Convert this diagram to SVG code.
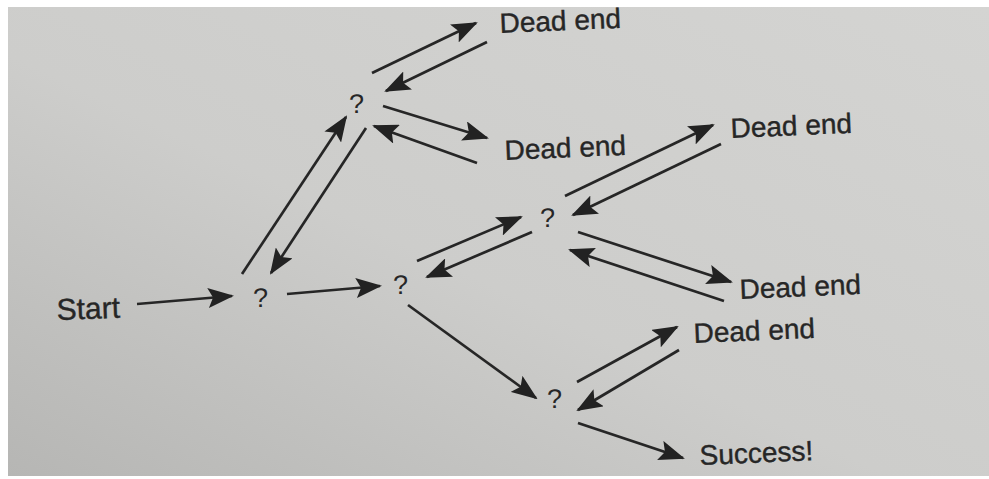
<svg xmlns="http://www.w3.org/2000/svg" width="989" height="479" viewBox="0 0 989 479">
<defs>
<linearGradient id="bg" x1="0" y1="1" x2="1" y2="0">
<stop offset="0" stop-color="#b6b6b4"/>
<stop offset="0.45" stop-color="#cdcdcb"/>
<stop offset="1" stop-color="#d4d4d2"/>
</linearGradient>
<marker id="ah" markerUnits="userSpaceOnUse" markerWidth="26" markerHeight="20" viewBox="0 0 26 20" refX="24" refY="10" orient="auto">
<path d="M0,0 L26,10 L0,20 L5,10 Z" fill="#222222"/>
</marker>
</defs>
<style>
.t{font-family:"Liberation Sans",Arial,sans-serif;fill:#262626;stroke:#262626;stroke-width:0.4;font-size:28px}
.q{font-family:"Liberation Sans",Arial,sans-serif;fill:#262626;font-size:27px;text-anchor:middle}
#edges line{stroke:#262626;stroke-width:2.7;marker-end:url(#ah)}
</style>
<rect width="989" height="479" fill="#ffffff"/>
<rect x="8" y="7" width="981" height="469" fill="url(#bg)"/>
<g id="edges">
<line x1="137" y1="304" x2="232" y2="296"/>
<line x1="287" y1="294" x2="380" y2="286"/>
<line x1="242" y1="274" x2="346" y2="117"/>
<line x1="366" y1="128" x2="271" y2="273"/>
<line x1="372" y1="73" x2="476" y2="23"/>
<line x1="487" y1="42" x2="386" y2="91"/>
<line x1="383" y1="106" x2="487" y2="138"/>
<line x1="477" y1="163" x2="374" y2="126"/>
<line x1="417" y1="261" x2="521" y2="217"/>
<line x1="532" y1="232" x2="427" y2="277"/>
<line x1="565" y1="196" x2="713" y2="125"/>
<line x1="721" y1="144" x2="573" y2="215"/>
<line x1="578" y1="232" x2="731" y2="282"/>
<line x1="724" y1="301" x2="570" y2="250"/>
<line x1="408" y1="305" x2="536" y2="398"/>
<line x1="577" y1="382" x2="677" y2="327"/>
<line x1="679" y1="350" x2="578" y2="410"/>
<line x1="578" y1="423" x2="683" y2="458"/>
</g>
<g id="start"><text class="t" x="57" y="320" transform="rotate(-2 57 320)" style="font-size:30px">Start</text></g>
<g id="q1"><text class="q" x="261" y="307" transform="rotate(-2 261 307)">?</text></g>
<g id="q2"><text class="q" x="401" y="294" transform="rotate(-2 401 294)">?</text></g>
<g id="q3"><text class="q" x="357" y="113" transform="rotate(-2 357 113)">?</text></g>
<g id="q4"><text class="q" x="548" y="227" transform="rotate(-2 548 227)">?</text></g>
<g id="q5"><text class="q" x="555" y="408" transform="rotate(-2 555 408)">?</text></g>
<g id="de1"><text class="t" x="500" y="33" transform="rotate(-2.5 500 33)">Dead end</text></g>
<g id="de2"><text class="t" x="505" y="160" transform="rotate(-2.5 505 160)">Dead end</text></g>
<g id="de3"><text class="t" x="731" y="138" transform="rotate(-2.5 731 138)">Dead end</text></g>
<g id="de4"><text class="t" x="740" y="299" transform="rotate(-2.5 740 299)">Dead end</text></g>
<g id="de5"><text class="t" x="694" y="343" transform="rotate(-2.5 694 343)">Dead end</text></g>
<g id="success"><text class="t" x="700" y="465" transform="rotate(-2.5 700 465)">Success!</text></g>
</svg>
